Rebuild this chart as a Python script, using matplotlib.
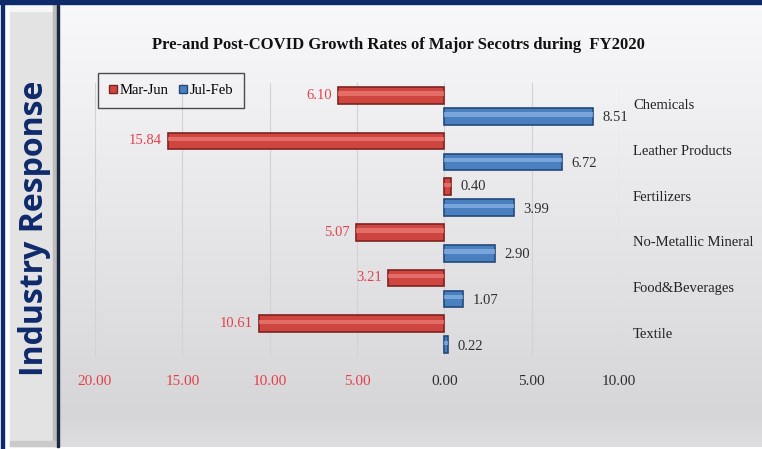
import numpy as np
import matplotlib.pyplot as plt
from matplotlib.patches import Rectangle
from matplotlib.lines import Line2D

sectors = ["Chemicals", "Leather Products", "Fertilizers",
           "No-Metallic Mineral", "Food&Beverages", "Textile"]
mar_jun = [-6.10, -15.84, 0.40, -5.07, -3.21, -10.61]
jul_feb = [8.51, 6.72, 3.99, 2.90, 1.07, 0.22]
ticks = [-20, -15, -10, -5, 0, 5, 10]

title = "Pre-and Post-COVID Growth Rates of Major Secotrs during  FY2020"

navy = "#0f2a6b"
red, red_dark, red_light = "#cf4640", "#7e2320", "#ee8078"
blue, blue_dark, blue_light = "#4a7fc0", "#22497c", "#8db6e6"
neg_txt = "#e4404b"
pos_txt = "#2e2e2e"
serif = "Liberation Serif"

fig = plt.figure(figsize=(7.62, 4.49), dpi=100)
fig.patch.set_facecolor("white")

# background in pixel coordinates
bg = fig.add_axes([0, 0, 1, 1])
bg.set_xlim(0, 762)
bg.set_ylim(449, 0)
bg.axis("off")

# chart panel gradient (top light, darker toward bottom, slight lift at the end)
grad = np.concatenate([np.linspace(0.975, 0.84, 410), np.linspace(0.84, 0.87, 32)])
img = np.stack([grad, grad, grad + 0.01], axis=-1).clip(0, 1)
img = img[:, None, :].repeat(2, axis=1)
bg.imshow(img, extent=[59, 762, 447, 5], aspect="auto", zorder=0)

# navy frame
bg.add_patch(Rectangle((0, 0), 762, 4, color=navy, zorder=2))
bg.add_patch(Rectangle((1, 0), 3, 449, color=navy, zorder=2))
bg.add_patch(Rectangle((57, 5), 2, 442, color="#1c2740", zorder=2))

# left label panel (beveled gray)
bg.add_patch(Rectangle((10, 5), 47, 441, color="#e3e3e3", zorder=1))
bg.add_patch(Rectangle((10, 5), 47, 6, color="#f6f6f6", zorder=1))
bg.add_patch(Rectangle((53, 5), 4, 441, color="#bcbcbc", zorder=1))
bg.add_patch(Rectangle((10, 441), 47, 5, color="#cacaca", zorder=1))

fig.text(35 / 762, 1 - 228 / 449, "Industry Response", rotation=90,
         ha="center", va="center", fontsize=23, fontweight="bold",
         family="Open Sans", color=navy)

fig.text(398 / 762, 1 - 45 / 449, title, ha="center", va="center",
         fontsize=12, fontweight="bold", family=serif, color="#111111")

# main axes
ax = fig.add_axes([95 / 762, 1 - 357 / 449, (619 - 95) / 762, (357 - 83) / 449])
ax.patch.set_alpha(0)
y = np.arange(len(sectors))
h = 0.37
off = 0.23

ax.barh(y - off, mar_jun, height=h, color=red, edgecolor=red_dark, lw=1.2, zorder=3)
ax.barh(y - off - 0.04, mar_jun, height=0.1, color=red_light, lw=0, alpha=0.7, zorder=4)
ax.barh(y + off, jul_feb, height=h, color=blue, edgecolor=blue_dark, lw=1.2, zorder=3)
ax.barh(y + off - 0.04, jul_feb, height=0.1, color=blue_light, lw=0, alpha=0.7, zorder=4)

ax.set_xlim(-20, 10)
ax.set_ylim(len(sectors) - 0.5, -0.5)
ax.set_xticks(ticks)
ax.set_xticklabels([f"{abs(t):.2f}" for t in ticks], family=serif, fontsize=11)
for lab, t in zip(ax.get_xticklabels(), ticks):
    lab.set_color(neg_txt if t < 0 else pos_txt)
ax.set_yticks([])
ax.tick_params(axis="x", length=0, pad=13)
ax.grid(axis="x", color="#d2d2d6", lw=0.8, zorder=0)
for s in ax.spines.values():
    s.set_visible(False)

# value labels
for i, v in enumerate(mar_jun):
    if v < 0:
        ax.text(v - 0.35, i - off, f"{abs(v):.2f}", ha="right", va="center",
                family=serif, fontsize=10.5, color=neg_txt)
    else:
        ax.text(v + 0.55, i - off, f"{v:.2f}", ha="left", va="center",
                family=serif, fontsize=10.5, color=pos_txt)
for i, v in enumerate(jul_feb):
    ax.text(v + 0.55, i + off + 0.03, f"{v:.2f}", ha="left", va="center",
            family=serif, fontsize=10.5, color=pos_txt)

# category names on the right
for i, name in enumerate(sectors):
    ax.text(10.8, i, name, ha="left", va="center", family=serif,
            fontsize=10.5, color="#222222", clip_on=False)

handles = [Line2D([], [], marker="s", ls="", ms=6, mfc=red, mec=red_dark),
           Line2D([], [], marker="s", ls="", ms=6, mfc=blue, mec=blue_dark)]
leg = ax.legend(handles, ["Mar-Jun", "Jul-Feb"], ncol=2, loc="upper left",
                bbox_to_anchor=(98 / 762, 1 - 73 / 449), bbox_transform=fig.transFigure,
                borderaxespad=0, frameon=True, fancybox=False, handlelength=0.6,
                handletextpad=0.15, columnspacing=0.7, borderpad=0.75,
                prop={"family": serif, "size": 10.5})
leg.get_frame().set_edgecolor("#222222")
leg.get_frame().set_facecolor("none")
leg.get_frame().set_linewidth(1.0)

fig.savefig("out.png", dpi=100)
